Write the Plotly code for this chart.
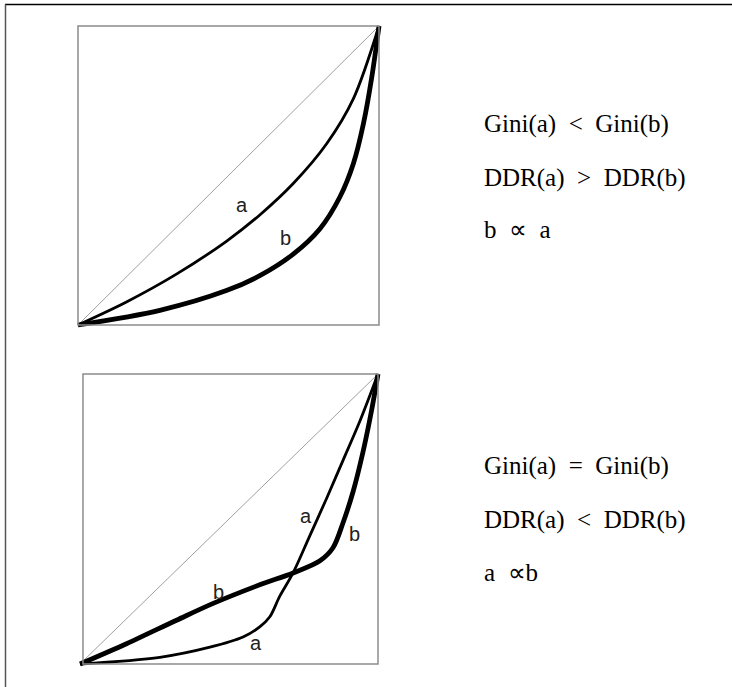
import plotly.graph_objects as go

W, H = 732, 687

# ---- data (Lorenz-type curves, fractions of box) ----
top_a_x = [0.0, 0.161, 0.327, 0.493, 0.604, 0.715, 0.826, 0.915, 1.0]
top_a_y = [0.0, 0.077, 0.170, 0.280, 0.368, 0.473, 0.606, 0.757, 1.0]
top_b_x = [0.0, 0.272, 0.493, 0.604, 0.715, 0.804, 0.870, 0.915, 0.948, 0.976, 1.0]
top_b_y = [0.0, 0.049, 0.115, 0.165, 0.237, 0.322, 0.428, 0.540, 0.672, 0.829, 1.0]

bot_a_x = [0.0, 0.268, 0.436, 0.547, 0.603, 0.637, 0.670, 0.715, 0.771, 0.827, 0.883, 0.939, 1.0]
bot_a_y = [0.0, 0.023, 0.058, 0.093, 0.128, 0.163, 0.233, 0.314, 0.442, 0.570, 0.703, 0.837, 1.0]
bot_b_x = [0.0, 0.156, 0.324, 0.447, 0.603, 0.715, 0.804, 0.849, 0.883, 0.916, 0.950, 0.978, 1.0]
bot_b_y = [0.0, 0.070, 0.151, 0.209, 0.273, 0.314, 0.355, 0.401, 0.488, 0.593, 0.733, 0.872, 1.0]

top_text = ["Gini(a)  <  Gini(b)", "DDR(a)  >  DDR(b)", "b  \u221d  a"]
bot_text = ["Gini(a)  =  Gini(b)", "DDR(a)  <  DDR(b)", "a  \u221db"]

# curve labels: (text, x-fraction, y-fraction)
top_labels = [("a", 0.545, 0.40), ("b", 0.69, 0.29)]
bot_labels = [("b", 0.465, 0.248), ("a", 0.760, 0.510), ("b", 0.920, 0.447), ("a", 0.591, 0.073)]

PAD = 0.05

def domain(px0, px1, py0, py1):
    ux = (px1 - px0)
    uy = (py0 - py1)
    xd = [(px0 - PAD * ux) / W, (px1 + PAD * ux) / W]
    yd = [1 - (py0 + PAD * uy) / H, 1 - (py1 - PAD * uy) / H]
    return xd, yd

xd1, yd1 = domain(78, 379, 325, 26)
xd2, yd2 = domain(80, 378, 664, 374)

fig = go.Figure()

def add_panel(ax, ay, ax_, ay_, bx, by):
    fig.add_trace(go.Scatter(x=[0, 1], y=[0, 1], mode="lines", xaxis=ax, yaxis=ay,
                             line=dict(color="#a0a0a0", width=1), hoverinfo="skip"))
    fig.add_trace(go.Scatter(x=ax_, y=ay_, mode="lines", xaxis=ax, yaxis=ay,
                             line=dict(color="black", width=2.8, shape="spline", smoothing=0.9),
                             hoverinfo="skip"))
    fig.add_trace(go.Scatter(x=bx, y=by, mode="lines", xaxis=ax, yaxis=ay,
                             line=dict(color="black", width=4.8, shape="spline", smoothing=0.9),
                             hoverinfo="skip"))

add_panel("x", "y", top_a_x, top_a_y, top_b_x, top_b_y)
add_panel("x2", "y2", bot_a_x, bot_a_y, bot_b_x, bot_b_y)

ax_common = dict(range=[-PAD, 1 + PAD], visible=False, fixedrange=True)
fig.update_layout(
    width=W, height=H,
    margin=dict(l=0, r=0, t=0, b=0),
    paper_bgcolor="white", plot_bgcolor="white",
    showlegend=False,
    xaxis=dict(domain=xd1, **ax_common),
    yaxis=dict(domain=yd1, **ax_common),
    xaxis2=dict(domain=xd2, anchor="y2", **ax_common),
    yaxis2=dict(domain=yd2, anchor="x2", **ax_common),
)

shapes = [
    dict(type="line", xref="paper", yref="paper", x0=5 / W, x1=1, y0=1 - 4.5 / H, y1=1 - 4.5 / H,
         line=dict(color="black", width=1.5)),
    dict(type="line", xref="paper", yref="paper", x0=5.5 / W, x1=5.5 / W, y0=0, y1=1 - 4.5 / H,
         line=dict(color="#555555", width=1.5)),
    dict(type="rect", xref="x", yref="y", x0=0, x1=1, y0=0, y1=1,
         line=dict(color="#8c8c8c", width=1.5)),
    dict(type="rect", xref="x2", yref="y2", x0=0.01, x1=1, y0=0, y1=1,
         line=dict(color="#8c8c8c", width=1.5)),
]
fig.update_layout(shapes=shapes)

ann = []
lab_font = dict(family="Liberation Sans, Arial", size=20, color="#222")
for t, x, y in top_labels:
    ann.append(dict(text=t, x=x, y=y, xref="x", yref="y", showarrow=False, font=lab_font))
for t, x, y in bot_labels:
    ann.append(dict(text=t, x=x, y=y, xref="x2", yref="y2", showarrow=False, font=lab_font))

serif = dict(family="Liberation Serif, Times New Roman", size=25, color="black")
for i, t in enumerate(top_text):
    yc = [124, 178, 230][i]
    ann.append(dict(text=t, x=482 / W, y=1 - yc / H, xref="paper", yref="paper",
                    xanchor="left", yanchor="middle", showarrow=False, font=serif))
for i, t in enumerate(bot_text):
    yc = [466, 520, 572][i]
    ann.append(dict(text=t, x=482 / W, y=1 - yc / H, xref="paper", yref="paper",
                    xanchor="left", yanchor="middle", showarrow=False, font=serif))
fig.update_layout(annotations=ann)

fig.write_html("out.html", config={"displayModeBar": False, "staticPlot": True},
               post_script="document.body.style.margin='0';")
